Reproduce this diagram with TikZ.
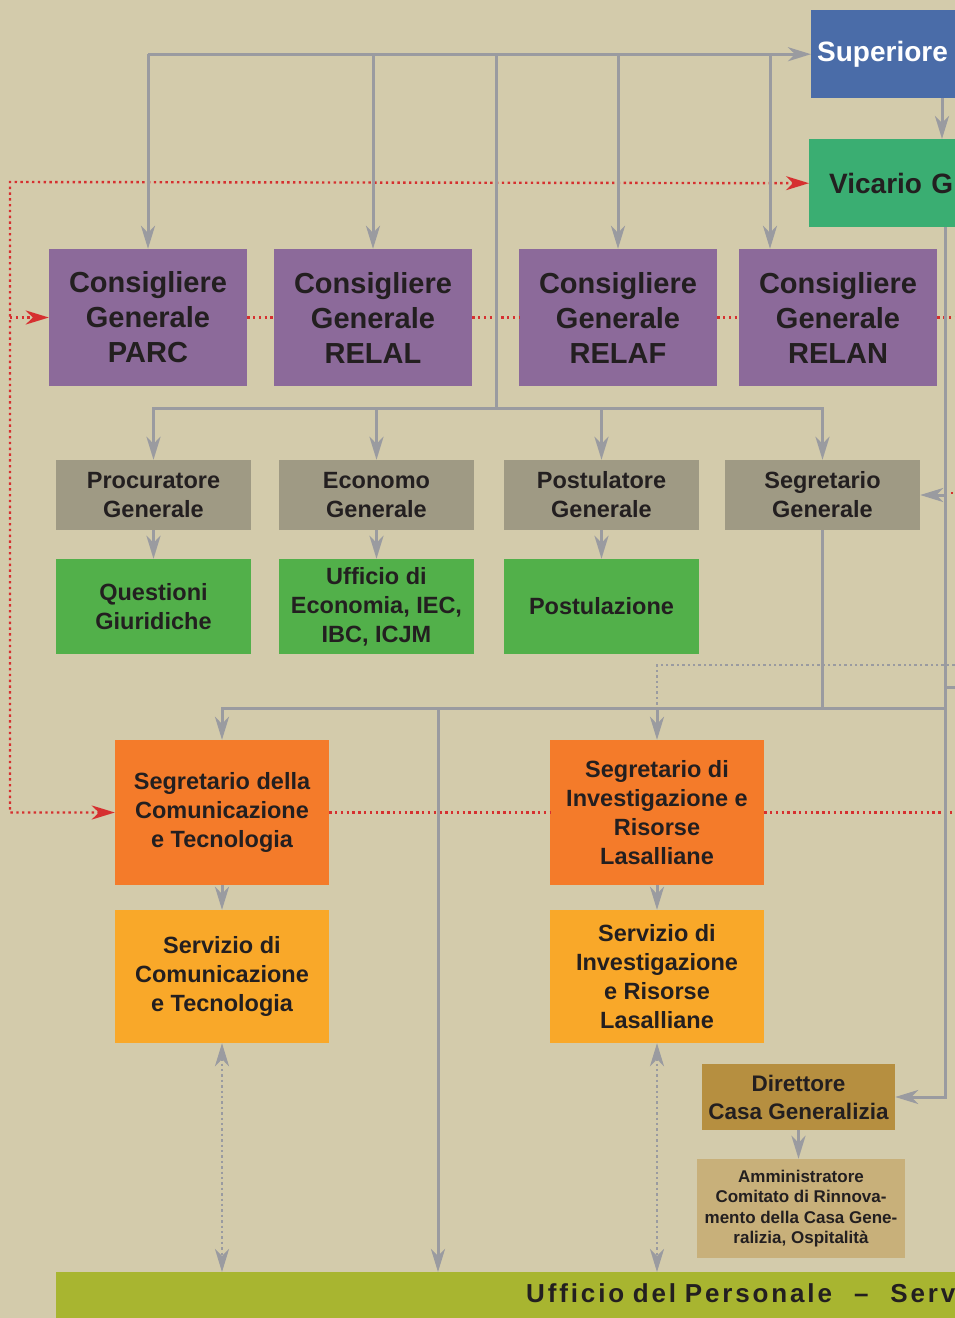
\documentclass[tikz,border=0pt]{standalone}
\usepackage{fontspec}
\setmainfont{Liberation Sans}
\usetikzlibrary{arrows.meta}
\definecolor{sfondo}{RGB}{211,203,171}
\definecolor{blu}{RGB}{74,108,168}
\definecolor{verdeV}{RGB}{58,174,114}
\definecolor{viola}{RGB}{140,106,154}
\definecolor{grigioB}{RGB}{159,154,132}
\definecolor{verde}{RGB}{82,176,74}
\definecolor{arancio}{RGB}{244,123,42}
\definecolor{giallo}{RGB}{249,168,41}
\definecolor{ocra}{RGB}{182,143,64}
\definecolor{sabbia}{RGB}{200,176,122}
\definecolor{oliva}{RGB}{168,181,48}
\definecolor{linea}{RGB}{154,155,160}
\definecolor{rosso}{RGB}{214,48,48}
\definecolor{testo}{RGB}{35,31,32}
\begin{document}
\begin{tikzpicture}
            [x=1pt,y=-1pt,
             every node/.style={rectangle,inner sep=0pt,align=center,text=testo},
             cons/.style={fill=viola,minimum width=198pt,minimum height=137pt,font=\fontsize{29}{35}\selectfont\bfseries},
             uff/.style={fill=grigioB,minimum width=195pt,minimum height=70pt,font=\fontsize{23.5}{29}\selectfont\bfseries},
             serv/.style={fill=verde,minimum width=195pt,minimum height=95pt,font=\fontsize{23.5}{29}\selectfont\bfseries},
             segr/.style={fill=arancio,minimum width=214pt,minimum height=145pt,font=\fontsize{23.5}{29}\selectfont\bfseries},
             servb/.style={fill=giallo,minimum width=214pt,minimum height=133pt,font=\fontsize{23.5}{29}\selectfont\bfseries},
             link/.style={draw=linea,line width=3pt},
             arr/.style={link,-{Stealth[length=23pt,width=14pt,inset=7pt]}},
             rdot/.style={draw=rosso,line width=2.4pt,dash pattern=on 2.4pt off 3.4pt},
             rarr/.style={rdot,-{Stealth[length=23pt,width=14pt,inset=7pt]}},
             gdot/.style={draw=linea,line width=2.4pt,dash pattern=on 2.4pt off 3pt}]
            \useasboundingbox (0,0) rectangle (955,1318);
            \clip (0,0) rectangle (955,1318);
            \fill[sfondo] (0,0) rectangle (955,1318);
            % vertici
            \node[fill=blu,text=white,anchor=north west,minimum height=88pt,text width=280pt,align=left,inner xsep=6pt,font=\fontsize{28}{35}\selectfont\bfseries] (sup) at (811,10) {Superiore};
            \node[fill=verdeV,anchor=north west,minimum height=88pt,text width=280pt,align=left,inner xsep=20pt,font=\fontsize{28}{35}\selectfont\bfseries] (vic) at (809,139) {Vicario G};
            % consiglieri
            \node[cons] (parc) at (148,317.5) {Consigliere\\Generale\\PARC};
            \node[cons] (relal) at (373,317.5) {Consigliere\\Generale\\RELAL};
            \node[cons] (relaf) at (618,317.5) {Consigliere\\Generale\\RELAF};
            \node[cons] (relan) at (838,317.5) {Consigliere\\Generale\\RELAN};
            % uffici generali
            \node[uff] (proc) at (153.5,495) {Procuratore\\Generale};
            \node[uff] (econ) at (376.5,495) {Economo\\Generale};
            \node[uff] (post) at (601.5,495) {Postulatore\\Generale};
            \node[uff] (segg) at (822.5,495) {Segretario\\Generale};
            \node[serv] (quest) at (153.5,606.5) {Questioni\\Giuridiche};
            \node[serv] (ecof) at (376.5,606.5) {Ufficio di\\Economia, IEC,\\IBC, ICJM};
            \node[serv] (postz) at (601.5,606.5) {Postulazione};
            % segretariati
            \node[segr] (segcom) at (222,812.5) {Segretario della\\Comunicazione\\e Tecnologia};
            \node[segr] (seginv) at (657,812.5) {Segretario di\\Investigazione e\\Risorse\\Lasalliane};
            \node[servb] (sercom) at (222,976.5) {Servizio di\\Comunicazione\\e Tecnologia};
            \node[servb] (serinv) at (657,976.5) {Servizio di\\Investigazione\\e Risorse\\Lasalliane};
            \node[fill=ocra,minimum width=193pt,minimum height=66pt,font=\fontsize{22.5}{28}\selectfont\bfseries] (dir) at (798.5,1097) {Direttore\\Casa Generalizia};
            \node[fill=sabbia,minimum width=208pt,minimum height=99pt,font=\fontsize{17}{20.5}\selectfont\bfseries] (amm) at (801,1208.5) {Amministratore\\Comitato di Rinnova-\\mento della Casa Gene-\\ralizia, Ospitalità};
            \node[fill=oliva,anchor=north west,text height=29pt,text depth=30pt,inner ysep=1pt,text width=800pt,align=left,inner xsep=470pt,font=\fontsize{26}{30}\selectfont\bfseries\addfontfeature{LetterSpace=11}] (bar) at (56,1272) {Ufficio del Personale\hspace{22pt}–\hspace{22pt}Serv};
            % punti di snodo
            \coordinate (spine) at (945,0);
            \coordinate (sv) at (942,0);
            \coordinate (hub) at (496,54);
            \coordinate (t4) at (770,54);
            \coordinate (bus) at (496,408);
            \coordinate (low) at (945,708);
            \coordinate (pb) at (438,708);
            \coordinate (rl) at (10,182);
            \coordinate (e1) at (960,687);
            \coordinate (e2) at (960,665);
            \coordinate (e3) at (960,317.5);
            \coordinate (e4) at (960,812.5);
            \coordinate (e5) at (960,493);
            % linee rosse
            \draw[rdot,{Stealth[length=23pt,width=14pt,inset=7pt]}-{Stealth[length=23pt,width=14pt,inset=7pt]}] (segcom.west) -| (rl) -- (vic.west);
            \draw[rarr] (rl |- parc.west) -- (parc.west);
            \draw[rdot] (parc.east) -- (relal.west);
            \draw[rdot] (relal.east) -- (relaf.west);
            \draw[rdot] (relaf.east) -- (relan.west);
            \draw[rdot] (relan.east) -- (e3);
            \draw[rdot] (segcom.east) -- (seginv.west);
            \draw[rdot] (seginv.east) -- (e4);
            \draw[rdot] (e5 -| spine) -- (e5);
            % linee grigie
            \draw[arr] (parc.north |- sup.west) -- (sup.west);
            \draw[arr] (parc.north |- sup.west) -- (parc.north);
            \draw[arr] (relal.north |- sup.west) -- (relal.north);
            \draw[arr] (relaf.north |- sup.west) -- (relaf.north);
            \draw[arr] (t4) -- (t4 |- relan.north);
            \draw[link] (hub) -- (bus);
            \draw[arr] (bus) -| (proc.north);
            \draw[arr] (bus) -| (econ.north);
            \draw[arr] (bus) -| (post.north);
            \draw[arr] (bus) -| (segg.north);
            \draw[arr] (proc) -- (quest);
            \draw[arr] (econ) -- (ecof);
            \draw[arr] (post) -- (postz);
            \draw[arr] (sup.south -| sv) -- (vic.north -| sv);
            \draw[arr] (vic.south -| spine) |- (dir.east);
            \draw[arr] (segg.east -| spine) -- (segg.east);
            \draw[link] (e1 -| spine) -- (e1);
            \draw[gdot] (e2) -| (seginv.north |- low);
            \draw[link] (segg.south) -- (segg.south |- low);
            \draw[arr] (low) -| (segcom.north);
            \draw[arr] (seginv.north |- low) -- (seginv.north);
            \draw[arr] (pb) -- (pb |- bar.north);
            \draw[arr] (segcom) -- (sercom);
            \draw[arr] (seginv) -- (serinv);
            \draw[arr] (dir.south) -- (dir.south |- amm.north);
            \draw[gdot,{Stealth[length=23pt,width=14pt,inset=7pt]}-{Stealth[length=23pt,width=14pt,inset=7pt]}] (sercom.south) -- (sercom.south |- bar.north);
            \draw[gdot,{Stealth[length=23pt,width=14pt,inset=7pt]}-{Stealth[length=23pt,width=14pt,inset=7pt]}] (serinv.south) -- (serinv.south |- bar.north);
        \end{tikzpicture}
\end{document}
